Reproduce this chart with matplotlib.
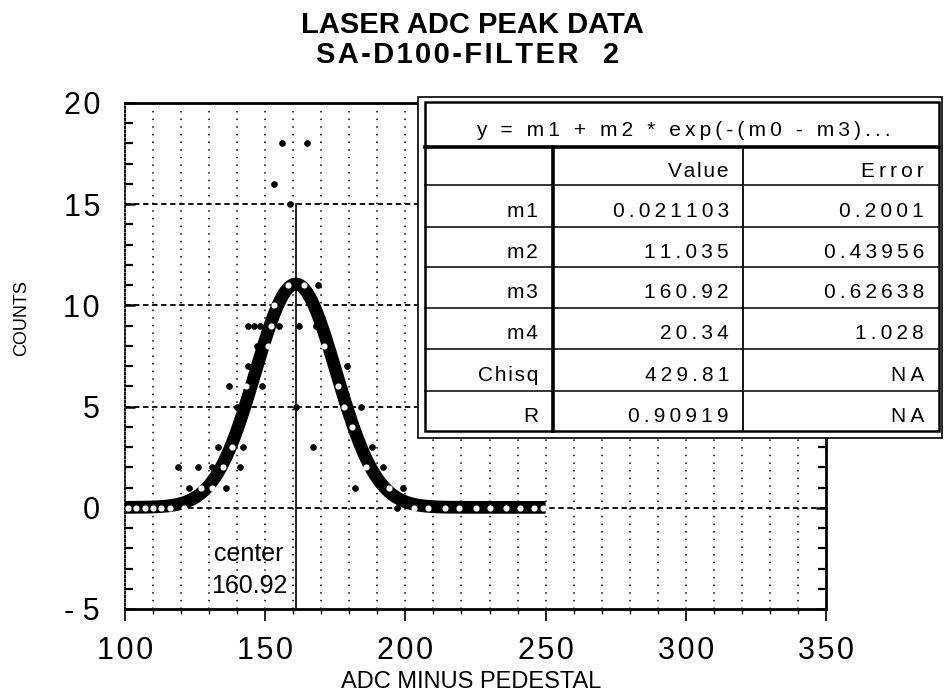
import numpy as np
import matplotlib
matplotlib.use("Agg")
import matplotlib.pyplot as plt
from matplotlib.patches import Rectangle
from matplotlib.ticker import FixedLocator, FixedFormatter, MultipleLocator

plt.rcParams['font.family'] = ['Liberation Sans', 'DejaVu Sans']

# ---- data -------------------------------------------------------------
# pedestal-subtracted ADC bin and number of counts in that bin
adc = [156, 165, 153, 159, 158, 164, 169, 153,
       144, 146, 148, 152, 155, 162, 168,
       147, 151, 171, 144, 179,
       137, 143, 149, 176, 140, 161, 178, 184, 181,
       133, 138, 142, 167, 188,
       119, 126, 131, 135, 141, 186, 192,
       123, 127, 131, 136, 182, 194, 199,
       101, 104, 107, 110, 113, 116, 121, 197, 203, 208, 214,
       219, 225, 230, 236, 241, 246, 249]
counts = [18, 18, 16, 15, 11, 11, 11, 10,
          9, 9, 9, 9, 9, 9, 9,
          8, 8, 8, 7, 7,
          6, 6, 6, 6, 5, 5, 5, 5, 4,
          3, 3, 3, 3, 3,
          2, 2, 2, 2, 2, 2, 2,
          1, 1, 1, 1, 1, 1, 1,
          0, 0, 0, 0, 0, 0, 0, 0, 0, 0, 0,
          0, 0, 0, 0, 0, 0, 0]

# gaussian fit results
fit_names = ["m1", "m2", "m3", "m4", "Chisq", "R"]
fit_values = ["0.021103", "11.035", "160.92", "20.34", "429.81", "0.90919"]
fit_errors = ["0.2001", "0.43956", "0.62638", "1.028", "NA", "NA"]
fit_formula = "y = m1 + m2 * exp(-(m0 - m3)..."
fit_range = [100, 250]

x_ticks = [100, 150, 200, 250, 300, 350]
x_tick_labels = ["100", "150", "200", "250", "300", "350"]
y_ticks = [-5, 0, 5, 10, 15, 20]
y_tick_labels = ["-5", "0", "5", "10", "15", "20"]
grid_y = [0, 5, 10, 15]

title_main = "LASER ADC PEAK DATA"
title_run = "SA-D100-FILTER"
title_filter = "2"
x_label = "ADC MINUS PEDESTAL"
y_label = "COUNTS"

THIN, HAIR = "\u2009", "\u200a"


def track(s, sp=THIN):
    """Loose letter spacing, like the old plotting package."""
    return sp.join(s)


W, H = 944, 694
fig = plt.figure(figsize=(W / 100, H / 100), dpi=100)
fig.patch.set_facecolor("white")

# plot frame in pixels: x 125..826, y 103..609
L, R, T, B = 125, 826, 103, 609
ax = fig.add_axes([L / W, 1 - B / H, (R - L) / W, (B - T) / H])
ax.set_xlim(100, 350)
ax.set_ylim(-5, 20)

ax.xaxis.set_major_locator(FixedLocator(x_ticks))
ax.xaxis.set_major_formatter(FixedFormatter([track(t, HAIR) for t in x_tick_labels]))
ax.xaxis.set_minor_locator(MultipleLocator(10))
ax.yaxis.set_major_locator(FixedLocator(y_ticks))
ax.yaxis.set_major_formatter(FixedFormatter([track(t, " " if t.startswith("-") else HAIR)
                                             for t in y_tick_labels]))
ax.yaxis.set_minor_locator(MultipleLocator(1))

ax.tick_params(axis="x", which="major", direction="out", length=8.5, width=1.2,
               labelsize=22, pad=11, bottom=True, top=False)
ax.tick_params(axis="x", which="minor", direction="out", length=3.5, width=1.0,
               bottom=True, top=False)
ax.tick_params(axis="y", which="major", direction="in", length=7, width=1.8,
               labelsize=22, pad=18, left=True, right=True)
ax.tick_params(axis="y", which="minor", direction="in", length=6, width=1.6,
               left=True, right=True)

for side in ["top", "bottom", "right"]:
    ax.spines[side].set_linewidth(2.0)
ax.spines["left"].set_linestyle((0, (1, 1.2)))
ax.spines["left"].set_linewidth(1.3)

# grid: sparse dots every 10 ADC, dashes every 5 counts
for gx in np.arange(110, 350, 10):
    ax.axvline(gx, color="black", lw=1.1, ls=(0, (1, 4)), zorder=1)
for gy in grid_y:
    ax.axhline(gy, color="black", lw=1.3, ls=(0, (3, 2)), zorder=1)

# fitted curve
m1, m2, m3, m4 = (float(v) for v in fit_values[:4])
xc = np.linspace(fit_range[0], fit_range[1], 1501)
yc = m1 + m2 * np.exp(-((xc - m3) / m4) ** 2)
curve_lw = 9.2
ax.plot(xc, yc, color="black", lw=curve_lw, solid_capstyle="butt",
        solid_joinstyle="round", zorder=4)

# points under the thick curve show up reversed (white)
pts = np.column_stack([adc, counts]).astype(float)
pts_px = ax.transData.transform(pts)
cur_px = ax.transData.transform(np.column_stack([xc, yc]))
dist = np.min(np.hypot(pts_px[:, None, 0] - cur_px[None, :, 0],
                       pts_px[:, None, 1] - cur_px[None, :, 1]), axis=1)
inside = dist < curve_lw * fig.dpi / 72 / 2 - 1
ax.plot(pts[~inside, 0], pts[~inside, 1], "o", ms=3.8, color="black",
        mec="black", zorder=3)
ax.plot(pts[inside, 0], pts[inside, 1], "o", ms=3.4, color="white",
        mec="white", zorder=5)

# center marker line and label
ax.plot([m3, m3], [-5, 15], color="black", lw=1.2, zorder=2)
ax.annotate("center", xy=(m3, -2.62), xytext=(-12, 0), textcoords="offset pixels",
            ha="right", va="baseline", fontsize=18)
ax.annotate(fit_values[2], xy=(m3, -4.2), xytext=(-8, 0), textcoords="offset pixels",
            ha="right", va="baseline", fontsize=18)

# titles and axis labels
fig.text(472 / W, 1 - 33 / H, title_main, ha="center", va="baseline",
         fontsize=21, fontweight="bold")
fig.text(467 / W, 1 - 63 / H, track(title_run, HAIR) + "   " + title_filter,
         ha="center", va="baseline", fontsize=21, fontweight="bold")
fig.text(471 / W, 1 - 688 / H, x_label, ha="center", va="baseline", fontsize=17)
fig.text(22 / W, 1 - 318 / H, y_label, ha="center", va="center", rotation=90,
         fontsize=13)

# ---- fit results table, drawn in pixel coordinates ---------------------
ov = fig.add_axes([0, 0, 1, 1], zorder=10)
ov.set_xlim(0, W)
ov.set_ylim(H, 0)
ov.axis("off")

ov.add_patch(Rectangle((418, 97), 524, 341, facecolor="white", edgecolor="black", lw=1.2))
ov.add_patch(Rectangle((425, 102), 514, 329, facecolor="white", edgecolor="black", lw=1.8))

col_sep = [553, 743]
row_top = 149
row_lines = [185, 227, 267, 308, 349, 391]
row_bottom = 431
ov.plot([425, 939], [147, 147], color="black", lw=2.6)
for yl in row_lines:
    ov.plot([425, 939], [yl, yl], color="black", lw=1.1)
ov.plot([col_sep[0], col_sep[0]], [147, row_bottom], color="black", lw=2.6)
ov.plot([col_sep[1], col_sep[1]], [147, row_bottom], color="black", lw=1.3)

tfs = 15
ov.text(683, 136, track(fit_formula), ha="center", va="baseline", fontsize=tfs)
name_x, val_x, err_x = 538, 729, 924
row_edges = [row_top] + row_lines + [row_bottom]
ov.text(val_x, 177, track("Value", HAIR), ha="right", va="baseline", fontsize=tfs)
ov.text(err_x, 177, track("Error"), ha="right", va="baseline", fontsize=tfs)
for i, (nm, v, e) in enumerate(zip(fit_names, fit_values, fit_errors)):
    yb = (row_edges[i + 1] + row_edges[i + 2]) / 2 + 10.5
    ov.text(name_x, yb, track(nm, HAIR), ha="right", va="baseline", fontsize=tfs)
    ov.text(val_x, yb, track(v), ha="right", va="baseline", fontsize=tfs)
    ov.text(err_x, yb, track(e), ha="right", va="baseline", fontsize=tfs)

fig.savefig("out.png", dpi=100, facecolor="white")
